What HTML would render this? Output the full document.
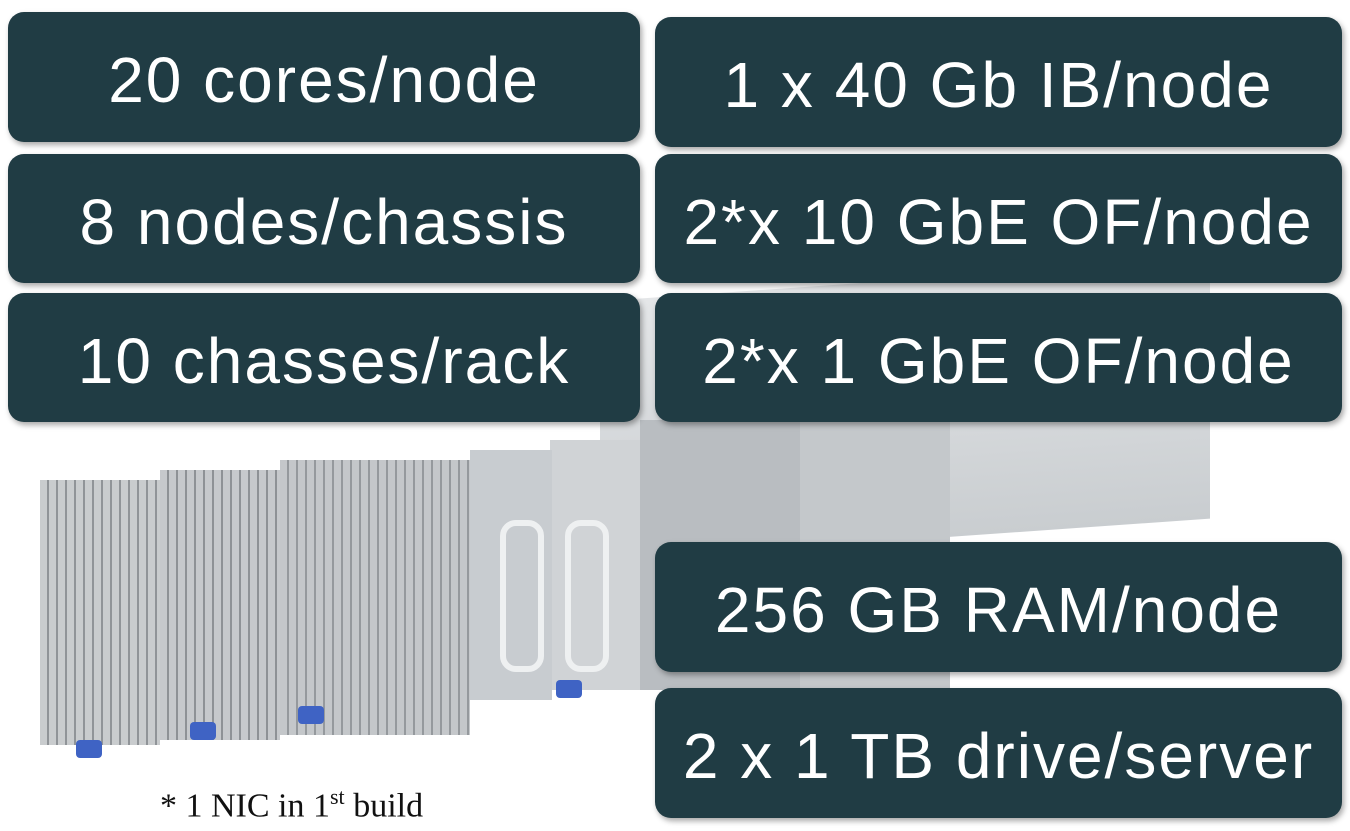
<!DOCTYPE html>
<html><head><style>
body{margin:0;width:1350px;height:831px;background:#fff;position:relative;overflow:hidden;font-family:"Liberation Sans",sans-serif}
.b{position:absolute;background:#203c44;border-radius:16px;color:#fff;font-size:64px;letter-spacing:2px;display:flex;align-items:center;justify-content:center;box-shadow:2px 3px 6px rgba(0,0,0,.35);white-space:nowrap;padding-top:6px;box-sizing:border-box}
.s{position:absolute}
</style></head><body>
<div class="s" style="left:600px;top:280px;width:610px;height:260px;background:linear-gradient(#e4e6e8,#c9cdd0);transform:skewY(-4deg)"></div>
<div class="s" style="left:800px;top:420px;width:150px;height:270px;background:#c4c8cb"></div>
<div class="s" style="left:640px;top:420px;width:160px;height:270px;background:#b9bdc1"></div>
<div class="s" style="left:550px;top:440px;width:90px;height:250px;background:#d0d3d6"></div>
<div class="s" style="left:470px;top:450px;width:82px;height:250px;background:#c8ccd0"></div>
<div class="s" style="left:280px;top:460px;width:190px;height:275px;background:repeating-linear-gradient(90deg,#c4c7ca 0 7px,#95999d 7px 9px)"></div>
<div class="s" style="left:160px;top:470px;width:120px;height:270px;background:repeating-linear-gradient(90deg,#c6c9cc 0 7px,#8e9296 7px 9px)"></div>
<div class="s" style="left:40px;top:480px;width:120px;height:265px;background:repeating-linear-gradient(90deg,#c9ccce 0 7px,#909498 7px 9px)"></div>
<div class="s" style="left:500px;top:520px;width:32px;height:140px;border:6px solid #eef0f1;border-radius:16px"></div>
<div class="s" style="left:565px;top:520px;width:32px;height:140px;border:6px solid #eef0f1;border-radius:16px"></div>
<div class="s" style="left:76px;top:740px;width:26px;height:18px;background:#3f63c4;border-radius:4px"></div>
<div class="s" style="left:190px;top:722px;width:26px;height:18px;background:#3f63c4;border-radius:4px"></div>
<div class="s" style="left:298px;top:706px;width:26px;height:18px;background:#3f63c4;border-radius:4px"></div>
<div class="s" style="left:556px;top:680px;width:26px;height:18px;background:#3f63c4;border-radius:4px"></div>
<div class="s" style="left:160px;top:784px;font-family:'Liberation Serif',serif;font-size:34px;color:#111">* 1 NIC in 1<sup style="font-size:22px">st</sup> build</div>

<div class="b" style="left:8px;top:12px;width:632px;height:130px">20 cores/node</div>
<div class="b" style="left:8px;top:154px;width:632px;height:129px">8 nodes/chassis</div>
<div class="b" style="left:8px;top:293px;width:632px;height:129px">10 chasses/rack</div>
<div class="b" style="left:655px;top:17px;width:687px;height:130px">1 x 40 Gb IB/node</div>
<div class="b" style="left:655px;top:154px;width:687px;height:129px">2*x 10 GbE OF/node</div>
<div class="b" style="left:655px;top:293px;width:687px;height:129px">2*x 1 GbE OF/node</div>
<div class="b" style="left:655px;top:542px;width:687px;height:130px">256 GB RAM/node</div>
<div class="b" style="left:655px;top:688px;width:687px;height:130px">2 x 1 TB drive/server</div>
</body></html>
